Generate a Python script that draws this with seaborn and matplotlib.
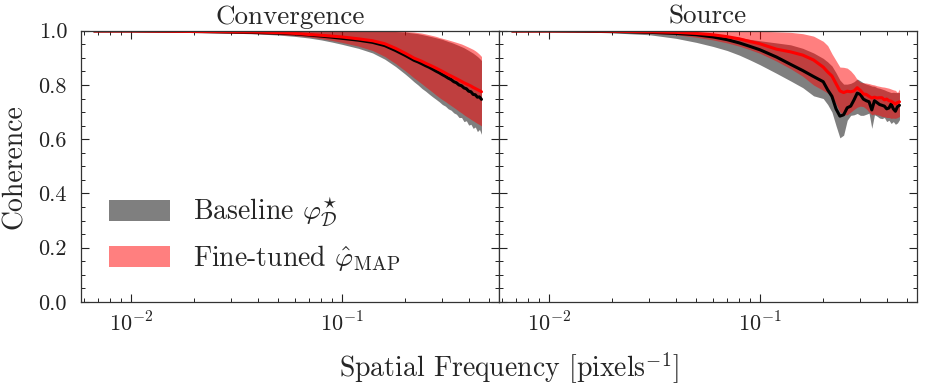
import matplotlib
matplotlib.use("Agg")
import matplotlib.pyplot as plt
import matplotlib.ticker as mticker
from matplotlib.patches import Patch
import seaborn as sns
import numpy as np

# ---------------- data ----------------
freq = [0.0067, 0.01, 0.015, 0.02, 0.03, 0.04, 0.05, 0.06, 0.07, 0.08, 0.09, 0.10,
        0.12, 0.14, 0.16, 0.18, 0.20, 0.21, 0.22, 0.23, 0.24, 0.25, 0.26, 0.27,
        0.28, 0.29, 0.30, 0.31, 0.32, 0.33, 0.34, 0.35, 0.36, 0.37, 0.38, 0.39,
        0.40, 0.41, 0.42, 0.43, 0.44, 0.45, 0.46]

# Convergence panel
conv_base_mean = [0.999, 0.999, 0.998, 0.997, 0.995, 0.993, 0.991, 0.988, 0.984, 0.980, 0.976, 0.972,
                  0.965, 0.957, 0.945, 0.927, 0.909, 0.900, 0.891, 0.885, 0.878, 0.871, 0.865, 0.858,
                  0.851, 0.845, 0.838, 0.832, 0.825, 0.820, 0.812, 0.808, 0.800, 0.797, 0.789, 0.786,
                  0.777, 0.775, 0.765, 0.764, 0.755, 0.756, 0.747]
conv_base_lo = [0.998, 0.997, 0.996, 0.994, 0.991, 0.988, 0.984, 0.979, 0.973, 0.966, 0.958, 0.950,
                0.935, 0.918, 0.895, 0.868, 0.840, 0.826, 0.812, 0.800, 0.787, 0.777, 0.766, 0.756,
                0.747, 0.738, 0.728, 0.722, 0.712, 0.707, 0.697, 0.692, 0.680, 0.680, 0.665, 0.668,
                0.652, 0.655, 0.640, 0.645, 0.628, 0.636, 0.618]
conv_base_hi = [1.000, 1.000, 1.000, 1.000, 1.000, 1.000, 1.000, 0.999, 0.999, 0.999, 0.999, 0.999,
                0.999, 0.999, 0.998, 0.997, 0.995, 0.993, 0.991, 0.989, 0.986, 0.983, 0.980, 0.977,
                0.974, 0.971, 0.968, 0.964, 0.960, 0.957, 0.953, 0.949, 0.945, 0.941, 0.937, 0.932,
                0.927, 0.922, 0.917, 0.911, 0.905, 0.898, 0.890]
conv_ft_mean = [0.999, 0.999, 0.998, 0.997, 0.996, 0.995, 0.993, 0.990, 0.986, 0.983, 0.980, 0.977,
                0.970, 0.963, 0.952, 0.935, 0.917, 0.908, 0.899, 0.893, 0.887, 0.880, 0.874, 0.868,
                0.862, 0.856, 0.850, 0.844, 0.838, 0.833, 0.828, 0.823, 0.818, 0.813, 0.808, 0.804,
                0.800, 0.796, 0.791, 0.787, 0.783, 0.779, 0.775]
conv_ft_lo = [0.999, 0.998, 0.997, 0.995, 0.992, 0.989, 0.986, 0.982, 0.977, 0.971, 0.964, 0.957,
              0.943, 0.927, 0.905, 0.879, 0.852, 0.839, 0.826, 0.815, 0.804, 0.793, 0.783, 0.773,
              0.763, 0.754, 0.746, 0.739, 0.731, 0.724, 0.717, 0.710, 0.703, 0.697, 0.690, 0.684,
              0.679, 0.673, 0.668, 0.663, 0.658, 0.654, 0.649]
conv_ft_hi = [1.000, 1.000, 1.000, 1.000, 1.000, 1.000, 1.000, 1.000, 1.000, 1.000, 1.000, 1.000,
              0.999, 0.999, 0.999, 0.998, 0.997, 0.996, 0.995, 0.993, 0.991, 0.988, 0.985, 0.982,
              0.979, 0.975, 0.972, 0.969, 0.966, 0.963, 0.960, 0.957, 0.954, 0.951, 0.947, 0.943,
              0.939, 0.935, 0.931, 0.926, 0.920, 0.913, 0.905]

# Source panel
src_base_mean = [0.999, 0.999, 0.998, 0.997, 0.994, 0.990, 0.985, 0.977, 0.967, 0.955, 0.942, 0.930,
                 0.903, 0.876, 0.853, 0.831, 0.812, 0.782, 0.758, 0.712, 0.685, 0.690, 0.716, 0.722,
                 0.745, 0.770, 0.765, 0.748, 0.742, 0.738, 0.708, 0.742, 0.735, 0.728, 0.725, 0.722,
                 0.712, 0.715, 0.730, 0.712, 0.703, 0.720, 0.725]
src_base_lo = [0.998, 0.997, 0.995, 0.992, 0.985, 0.972, 0.957, 0.942, 0.927, 0.910, 0.892, 0.875,
               0.843, 0.815, 0.790, 0.760, 0.750, 0.728, 0.700, 0.650, 0.605, 0.615, 0.670, 0.688,
               0.690, 0.695, 0.688, 0.688, 0.692, 0.696, 0.640, 0.690, 0.685, 0.678, 0.676, 0.680,
               0.665, 0.670, 0.658, 0.665, 0.655, 0.660, 0.672]
src_base_hi = [1.000, 1.000, 1.000, 0.999, 0.998, 0.996, 0.993, 0.988, 0.982, 0.975, 0.968, 0.963,
               0.955, 0.948, 0.935, 0.918, 0.898, 0.885, 0.870, 0.845, 0.818, 0.803, 0.803, 0.806,
               0.812, 0.822, 0.815, 0.808, 0.803, 0.800, 0.796, 0.795, 0.790, 0.788, 0.785, 0.782,
               0.778, 0.775, 0.772, 0.773, 0.772, 0.772, 0.772]
src_ft_mean = [0.999, 0.999, 0.999, 0.998, 0.996, 0.994, 0.990, 0.985, 0.978, 0.970, 0.960, 0.952,
               0.932, 0.922, 0.910, 0.892, 0.866, 0.848, 0.833, 0.805, 0.778, 0.772, 0.777, 0.775,
               0.778, 0.790, 0.780, 0.767, 0.765, 0.758, 0.752, 0.755, 0.752, 0.753, 0.753, 0.745,
               0.748, 0.742, 0.740, 0.735, 0.730, 0.735, 0.738]
src_ft_lo = [0.999, 0.998, 0.997, 0.995, 0.991, 0.985, 0.976, 0.966, 0.955, 0.943, 0.930, 0.917,
             0.888, 0.860, 0.832, 0.800, 0.780, 0.770, 0.757, 0.730, 0.700, 0.690, 0.690, 0.700,
             0.710, 0.718, 0.722, 0.720, 0.712, 0.700, 0.690, 0.693, 0.690, 0.688, 0.684, 0.683,
             0.680, 0.680, 0.677, 0.678, 0.677, 0.680, 0.684]
src_ft_hi = [1.000, 1.000, 1.000, 1.000, 1.000, 1.000, 0.999, 0.999, 0.999, 0.999, 0.999, 0.998,
             0.996, 0.994, 0.989, 0.980, 0.961, 0.945, 0.915, 0.890, 0.866, 0.865, 0.862, 0.852,
             0.838, 0.820, 0.810, 0.808, 0.807, 0.805, 0.802, 0.800, 0.797, 0.795, 0.793, 0.792,
             0.790, 0.788, 0.785, 0.782, 0.780, 0.772, 0.785]

panel_titles = ["Convergence", "Source"]
legend_labels = [r"Baseline $\varphi^{\star}_{\mathcal{D}}$", r"Fine-tuned $\hat{\varphi}_{\rm MAP}$"]
xtick_vals = [0.01, 0.1]
xtick_labels = [r"$10^{-2}$", r"$10^{-1}$"]
ytick_vals = [0.0, 0.2, 0.4, 0.6, 0.8, 1.0]
ytick_labels = ["0.0", "0.2", "0.4", "0.6", "0.8", "1.0"]

# ---------------- style ----------------
sns.set_theme(style="ticks")
plt.rcParams.update({
    "font.family": "serif",
    "font.serif": ["cmr10"],
    "mathtext.fontset": "cm",
    "axes.unicode_minus": False,
    "axes.formatter.use_mathtext": True,
    "axes.edgecolor": "#333333",
    "axes.linewidth": 0.9,
    "xtick.direction": "in",
    "ytick.direction": "in",
    "xtick.top": True,
    "ytick.right": True,
    "xtick.major.size": 6,
    "ytick.major.size": 6,
    "xtick.minor.size": 3,
    "ytick.minor.size": 3,
    "xtick.major.width": 0.8,
    "ytick.major.width": 0.8,
    "xtick.minor.width": 0.7,
    "ytick.minor.width": 0.7,
    "xtick.color": "#222222",
    "ytick.color": "#222222",
})

fig = plt.figure(figsize=(9.38, 3.87), dpi=100)
axes = fig.subplots(1, 2, sharey=True)
fig.subplots_adjust(left=81/938, right=917/938, bottom=1-302/387, top=1-30.7/387, wspace=0.0)

panels = [
    (conv_base_mean, conv_base_lo, conv_base_hi, conv_ft_mean, conv_ft_lo, conv_ft_hi),
    (src_base_mean, src_base_lo, src_base_hi, src_ft_mean, src_ft_lo, src_ft_hi),
]

f = np.array(freq)
for ax, title, (bm, bl, bh, fm, fl, fh) in zip(axes, panel_titles, panels):
    ax.fill_between(f, bl, bh, color="black", alpha=0.5, lw=0)
    ax.fill_between(f, fl, fh, color="red", alpha=0.5, lw=0)
    sns.lineplot(x=f, y=bm, ax=ax, color="black", lw=2.2, estimator=None, sort=False)
    sns.lineplot(x=f, y=fm, ax=ax, color="red", lw=2.2, estimator=None, sort=False)
    ax.set_xscale("log")
    ax.set_xlim(0.0058, 0.557)
    ax.set_ylim(0, 1)
    ax.set_xticks(xtick_vals)
    ax.set_xticklabels(xtick_labels)
    ax.xaxis.set_minor_locator(mticker.LogLocator(base=10, subs=np.arange(2, 10)))
    ax.xaxis.set_minor_formatter(mticker.NullFormatter())
    ax.yaxis.set_minor_locator(mticker.MultipleLocator(0.05))
    ax.tick_params(axis="x", which="major", labelsize=16, pad=7)
    ax.tick_params(axis="y", which="major", labelsize=16, pad=10)
    ax.tick_params(which="both", top=True, right=True)
    ax.set_title(title, fontsize=19.5, pad=5)
    ax.set_xlabel("")
    ax.set_ylabel("")

axes[0].set_yticks(ytick_vals)
axes[0].set_yticklabels(ytick_labels)
axes[1].tick_params(axis="y", labelleft=False)
axes[0].set_ylabel("Coherence", fontsize=20, labelpad=8)

handles = [Patch(facecolor="black", alpha=0.5, edgecolor="none"),
           Patch(facecolor="red", alpha=0.5, edgecolor="none")]
axes[0].legend(handles, legend_labels, loc="lower left", bbox_to_anchor=(0.008, 0.015),
               fontsize=20, frameon=False, handlelength=2.2, handleheight=0.76,
               labelspacing=0.5, handletextpad=0.8)

fig.text(509/938, 1-368/387, r"Spatial Frequency [pixels$^{-1}$]", fontsize=20,
         ha="center", va="center")

fig.savefig("out.png", dpi=100)
